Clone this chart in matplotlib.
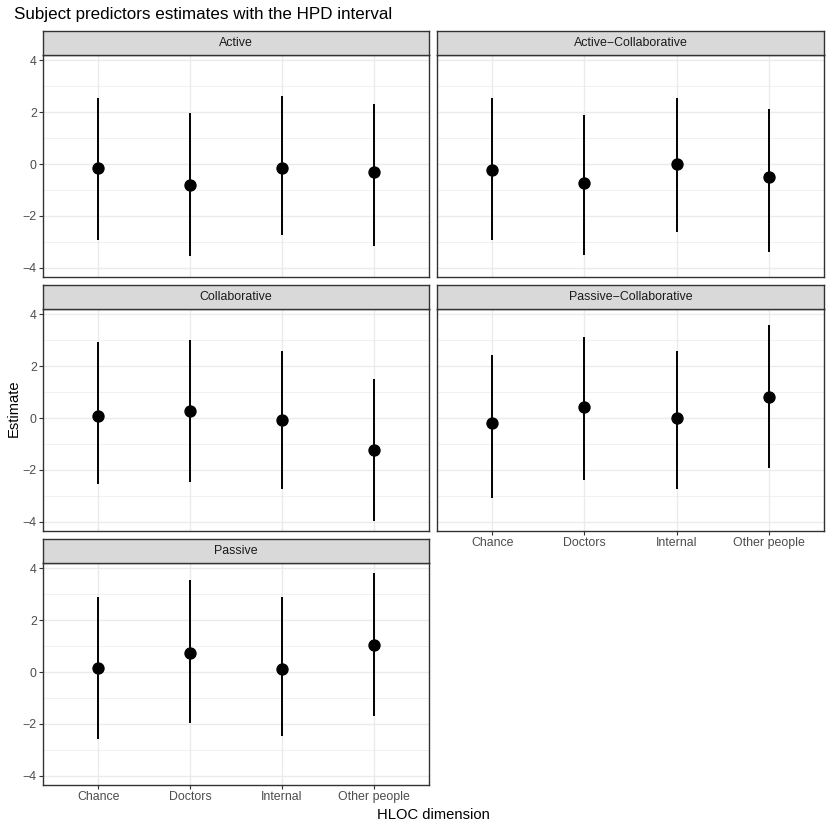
import matplotlib
matplotlib.use("Agg")
import matplotlib.pyplot as plt
import numpy as np

plt.rcParams['font.family'] = ['Liberation Sans', 'DejaVu Sans']

categories = ["Chance", "Doctors", "Internal", "Other people"]
panels = ["Active", "Active\u2212Collaborative", "Collaborative",
          "Passive\u2212Collaborative", "Passive"]

# estimate, lower and upper HPD bounds, one list per panel
est_active = [-0.14, -0.79, -0.15, -0.29]
lo_active = [-2.92, -3.53, -2.72, -3.17]
hi_active = [2.56, 1.97, 2.62, 2.32]

est_act_col = [-0.23, -0.74, -0.01, -0.49]
lo_act_col = [-2.95, -3.50, -2.64, -3.40]
hi_act_col = [2.54, 1.91, 2.56, 2.14]

est_collab = [0.09, 0.28, -0.09, -1.22]
lo_collab = [-2.55, -2.47, -2.72, -3.97]
hi_collab = [2.94, 3.03, 2.60, 1.51]

est_pas_col = [-0.19, 0.41, 0.01, 0.82]
lo_pas_col = [-3.08, -2.38, -2.72, -1.91]
hi_pas_col = [2.44, 3.13, 2.59, 3.59]

est_passive = [0.14, 0.74, 0.13, 1.04]
lo_passive = [-2.60, -1.97, -2.46, -1.69]
hi_passive = [2.90, 3.54, 2.90, 3.82]

estimates = [est_active, est_act_col, est_collab, est_pas_col, est_passive]
lowers = [lo_active, lo_act_col, lo_collab, lo_pas_col, lo_passive]
uppers = [hi_active, hi_act_col, hi_collab, hi_pas_col, hi_passive]

W = H = 830
fig = plt.figure(figsize=(W / 100, H / 100), dpi=100)
fig.patch.set_facecolor("white")

cols = [(43, 429), (437, 824)]
rows = [(31, 55, 277), (285, 309, 531), (539, 563, 785)]
layout = [(0, 0), (0, 1), (1, 0), (1, 1), (2, 0)]

ymin = min(min(l) for l in lowers)
ymax = max(max(u) for u in uppers)
pad = (ymax - ymin) * 0.05

grey20 = "#333333"
grey30 = "#4D4D4D"
grid_c = "#EBEBEB"
small = 8.95


def px_rect(x0, y0, x1, y1):
    return [x0 / W, 1 - y1 / H, (x1 - x0) / W, (y1 - y0) / H]


for i, name in enumerate(panels):
    r, c = layout[i]
    x0, x1 = cols[c]
    st, top, bot = rows[r]
    ax = fig.add_axes(px_rect(x0, top, x1, bot))
    xs = np.arange(1, len(categories) + 1)
    ax.vlines(xs, lowers[i], uppers[i], color="black", lw=1.4, zorder=3)
    ax.plot(xs, estimates[i], "o", color="black", ms=7.9, zorder=4)
    ax.set_xlim(0.4, 4.6)
    ax.set_ylim(ymin - pad, ymax + pad)
    ax.set_yticks([-4, -2, 0, 2, 4])
    ax.set_yticks([-3, -1, 1, 3], minor=True)
    ax.set_xticks(xs)
    ax.grid(True, which="major", color=grid_c, lw=1.0, zorder=0)
    ax.grid(True, which="minor", axis="y", color=grid_c, lw=0.5, zorder=0)
    ax.set_axisbelow(True)
    for s in ax.spines.values():
        s.set_color(grey20)
        s.set_linewidth(1.0)
    ax.tick_params(which="major", length=2.7, width=0.8, color=grey20,
                   labelsize=small, labelcolor=grey30, pad=1.8)
    ax.tick_params(which="minor", length=0)
    bottom_panel = name in ("Passive\u2212Collaborative", "Passive")
    if bottom_panel:
        ax.set_xticklabels(categories)
    else:
        ax.tick_params(axis="x", length=0, labelbottom=False)
    if c == 1:
        ax.tick_params(axis="y", length=0, labelleft=False)

    sax = fig.add_axes(px_rect(x0, st, x1, top))
    sax.set_facecolor("#D9D9D9")
    sax.set_xticks([])
    sax.set_yticks([])
    for s in sax.spines.values():
        s.set_color(grey20)
        s.set_linewidth(1.0)
    sax.text(0.5, 0.5, name, ha="center", va="center", fontsize=small,
             color="#1A1A1A", transform=sax.transAxes)

fig.text(14 / W, 1 - 15 / H, "Subject predictors estimates with the HPD interval",
         ha="left", va="center", fontsize=12.25, color="black")
fig.text(433 / W, 1 - 815 / H, "HLOC dimension", ha="center", va="center",
         fontsize=10.6, color="black")
fig.text(14 / W, 1 - 408 / H, "Estimate", ha="center", va="center",
         rotation=90, fontsize=10.6, color="black")

fig.savefig("out.png", dpi=100, facecolor="white")
